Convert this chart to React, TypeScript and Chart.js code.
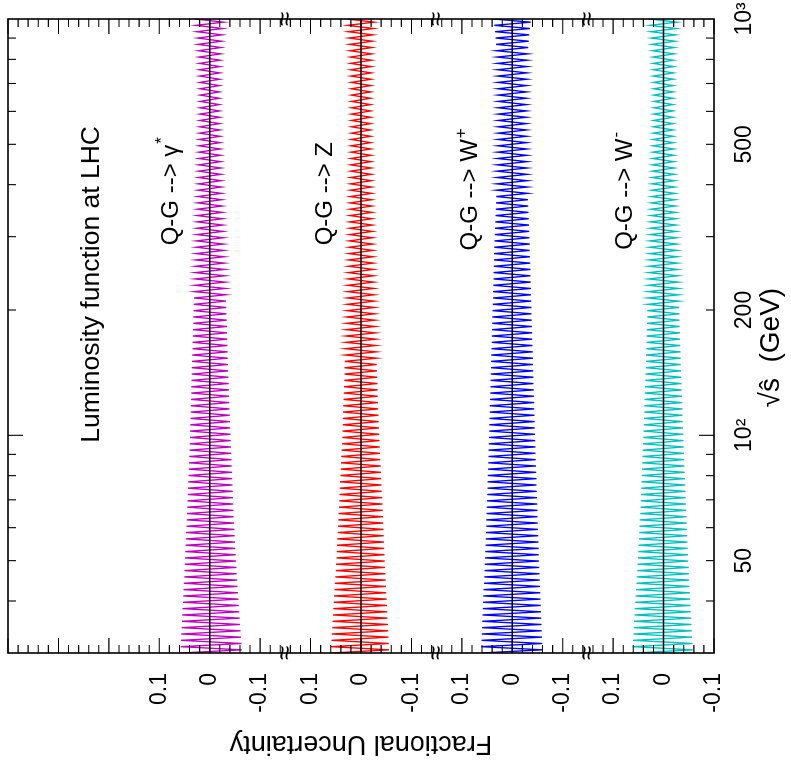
import React, { useEffect, useRef } from "react";
import { Chart, registerables } from "chart.js";

Chart.register(...registerables);

// ---------------- data ----------------
const sqrtS = [30, 40, 50, 70, 100, 150, 200, 300, 400, 550, 650, 800, 900, 1000];

const gammaUpper = [0.058, 0.053, 0.049, 0.044, 0.039, 0.035, 0.032, 0.026, 0.023, 0.020, 0.019, 0.021, 0.024, 0.029];
const gammaLower = [-0.064, -0.057, -0.052, -0.046, -0.041, -0.036, -0.033, -0.027, -0.023, -0.020, -0.019, -0.021, -0.024, -0.028];
const zUpper = [0.060, 0.054, 0.049, 0.043, 0.037, 0.032, 0.028, 0.023, 0.021, 0.019, 0.019, 0.021, 0.024, 0.028];
const zLower = [-0.056, -0.051, -0.047, -0.042, -0.036, -0.031, -0.027, -0.023, -0.021, -0.019, -0.019, -0.021, -0.023, -0.027];
const wPlusUpper = [0.062, 0.058, 0.054, 0.050, 0.046, 0.042, 0.039, 0.035, 0.031, 0.028, 0.028, 0.030, 0.033, 0.037];
const wPlusLower = [-0.060, -0.056, -0.053, -0.049, -0.045, -0.041, -0.038, -0.034, -0.030, -0.028, -0.028, -0.030, -0.033, -0.037];
const wMinusUpper = [0.062, 0.056, 0.051, 0.045, 0.040, 0.035, 0.032, 0.027, 0.023, 0.020, 0.019, 0.021, 0.024, 0.029];
const wMinusLower = [-0.058, -0.053, -0.049, -0.044, -0.039, -0.034, -0.031, -0.026, -0.022, -0.019, -0.019, -0.020, -0.023, -0.027];

const channels = ["γ*", "Z", "W+", "W-"];
const panelOffsets = [0.9, 0.6, 0.3, 0.0];
const bandColors = ["#c000c0", "#ff0000", "#0000ff", "#00c0c0"];
const bandUpper = [gammaUpper, zUpper, wPlusUpper, wMinusUpper];
const bandLower = [gammaLower, zLower, wPlusLower, wMinusLower];

const xTickValues = [50, 100, 200, 500, 1000];
const xTickLabels = ["50", "10²", "200", "500", "10³"];
const xMinorTicks = [40, 50, 60, 70, 80, 90, 200, 300, 400, 500, 600, 700, 800, 900];
const xMajorTicks = [100];
const yTickValues = [-0.1, 0, 0.1];
const yTickLabels = ["-0.1", "0", "0.1"];
const panelBreaks = [0.15, 0.45, 0.75];

const FONT = "'Liberation Sans', Arial, Helvetica, sans-serif";

// label placement (data coords: sqrt(s), fractional value above panel zero)
const labelMain = ["Q-G --> γ", "Q-G --> Z", "Q-G --> W", "Q-G --> W"];
const labelSup = ["*", "", "+", "-"];
const labelX = [286, 286, 278, 279];
const labelDy = [0.063, 0.058, 0.07, 0.063];

function interpAt(pts: { x: number; y: number }[], px: number) {
  for (let j = 0; j < pts.length - 1; j++) {
    const a = pts[j], b = pts[j + 1];
    if (px >= a.x - 1e-6 && px <= b.x + 1e-6) {
      const t = (px - a.x) / (b.x - a.x || 1);
      return a.y + (b.y - a.y) * t;
    }
  }
  return pts[pts.length - 1].y;
}

const decorPlugin = {
  id: "decor",
  beforeDatasetsDraw(chart: any) {
    const { ctx, chartArea } = chart;
    ctx.save();
    ctx.beginPath();
    ctx.rect(chartArea.left, chartArea.top, chartArea.right - chartArea.left, chartArea.bottom - chartArea.top);
    ctx.clip();
    const step = 3.17;
    for (let b = 0; b < channels.length; b++) {
      const up = chart.getDatasetMeta(4 + 2 * b).data.map((p: any) => ({ x: p.x, y: p.y }));
      const lo = chart.getDatasetMeta(5 + 2 * b).data.map((p: any) => ({ x: p.x, y: p.y }));
      const x0 = up[0].x, x1 = up[up.length - 1].x;
      const n = Math.round((x1 - x0) / step);
      ctx.beginPath();
      for (let k = 0; k <= n; k++) {
        const px = x0 + ((x1 - x0) * k) / n;
        const py = interpAt(k % 2 === 0 ? up : lo, px);
        if (k === 0) ctx.moveTo(px, py);
        else ctx.lineTo(px, py);
      }
      ctx.strokeStyle = bandColors[b];
      ctx.lineWidth = 1.35;
      ctx.stroke();
    }
    ctx.restore();
  },
  afterDatasetsDraw(chart: any) {
    const { ctx, chartArea } = chart;
    const xs = chart.scales.x;
    const ys = chart.scales.y;
    const { left, right, top, bottom } = chartArea;
    ctx.save();
    ctx.strokeStyle = "#000";
    ctx.fillStyle = "#000";
    ctx.lineWidth = 1.1;
    const drawXTick = (v: number, len: number) => {
      const px = xs.getPixelForValue(v);
      ctx.beginPath();
      ctx.moveTo(px, bottom);
      ctx.lineTo(px, bottom - len);
      ctx.moveTo(px, top);
      ctx.lineTo(px, top + len);
      ctx.stroke();
    };
    xMinorTicks.forEach((v) => drawXTick(v, 8));
    xMajorTicks.forEach((v) => drawXTick(v, 15));
    panelOffsets.forEach((off, i) => {
      const lo = i === panelOffsets.length - 1 ? -0.1 : -0.14;
      const hi = i === 0 ? 0.4 : 0.14;
      for (let k = Math.round(lo / 0.02); k <= Math.round(hi / 0.02); k++) {
        const v = off + k * 0.02;
        const len = k % 5 === 0 ? 15 : 8;
        const py = ys.getPixelForValue(v);
        ctx.beginPath();
        ctx.moveTo(left, py);
        ctx.lineTo(left + len, py);
        ctx.moveTo(right, py);
        ctx.lineTo(right - len, py);
        ctx.stroke();
      }
    });
    ctx.lineWidth = 1.6;
    ctx.strokeRect(left, top, right - left, bottom - top);
    ctx.font = `26px ${FONT}`;
    ctx.textAlign = "center";
    ctx.textBaseline = "middle";
    panelBreaks.forEach((v) => {
      const py = ys.getPixelForValue(v);
      ctx.fillText("≈", left, py);
      ctx.fillText("≈", right, py);
    });
    ctx.textAlign = "left";
    ctx.textBaseline = "alphabetic";
    for (let i = 0; i < channels.length; i++) {
      const px = xs.getPixelForValue(labelX[i]);
      const py = ys.getPixelForValue(panelOffsets[i] + labelDy[i]);
      ctx.font = `24px ${FONT}`;
      ctx.fillText(labelMain[i], px, py);
      const w = ctx.measureText(labelMain[i]).width;
      if (labelSup[i]) {
        ctx.font = `17px ${FONT}`;
        ctx.fillText(labelSup[i], px + w + 1, py - 11);
      }
    }
    ctx.font = `26.5px ${FONT}`;
    ctx.fillText("Luminosity function at LHC", xs.getPixelForValue(96), ys.getPixelForValue(1.12));
    ctx.restore();
  },
};

export default function App() {
  const ref = useRef<HTMLCanvasElement | null>(null);
  useEffect(() => {
    if (!ref.current) return;
    const datasets: any[] = [];
    panelOffsets.forEach((off) => {
      datasets.push({
        data: [
          { x: sqrtS[0], y: off },
          { x: sqrtS[sqrtS.length - 1], y: off },
        ],
        borderColor: "#000",
        borderWidth: 1.5,
        pointRadius: 0,
        fill: false,
      });
    });
    panelOffsets.forEach((off, b) => {
      datasets.push({
        data: sqrtS.map((x, j) => ({ x, y: off + bandUpper[b][j] })),
        showLine: false,
        pointRadius: 0,
        borderWidth: 0,
      });
      datasets.push({
        data: sqrtS.map((x, j) => ({ x, y: off + bandLower[b][j] })),
        showLine: false,
        pointRadius: 0,
        borderWidth: 0,
      });
    });
    const yTicksAll: number[] = [];
    panelOffsets.forEach((off) => yTickValues.forEach((v) => yTicksAll.push(off + v)));

    const chart = new Chart(ref.current, {
      type: "line",
      data: { datasets },
      plugins: [decorPlugin],
      options: {
        responsive: false,
        animation: false,
        events: [],
        layout: { padding: { left: 0, right: 19, top: 8, bottom: 0 } },
        plugins: { legend: { display: false }, tooltip: { enabled: false } },
        scales: {
          x: {
            type: "logarithmic",
            min: 30,
            max: 1000,
            position: "bottom",
            grid: { display: false },
            border: { display: false },
            afterBuildTicks: (s: any) => {
              s.ticks = xTickValues.map((v) => ({ value: v }));
            },
            afterFit: (s: any) => {
              s.height = 77;
              s.paddingLeft = 0;
              s.paddingRight = 0;
            },
            ticks: {
              autoSkip: false,
              maxRotation: 0,
              minRotation: 0,
              padding: 8.5,
              color: "#000",
              font: { family: FONT, size: 23 },
              callback: (_v: any, i: number) => xTickLabels[i],
            },
            title: {
              display: true,
              text: "√ŝ  (GeV)   ",
              color: "#000",
              font: { family: FONT, size: 28 },
              padding: { top: 0, bottom: 3.2 },
            },
          },
          y: {
            type: "linear",
            min: -0.1,
            max: 1.3,
            position: "left",
            grid: { display: false },
            border: { display: false },
            afterBuildTicks: (s: any) => {
              s.ticks = yTicksAll.map((v) => ({ value: v }));
            },
            afterFit: (s: any) => {
              s.width = 118;
              s.paddingTop = 0;
              s.paddingBottom = 0;
            },
            ticks: {
              autoSkip: false,
              padding: 12,
              color: "#000",
              font: { family: FONT, size: 23 },
              callback: (_v: any, i: number) => yTickLabels[i % yTickLabels.length],
            },
            title: {
              display: true,
              text: "Fractional Uncertainty",
              color: "#000",
              font: { family: FONT, size: 27 },
              padding: { top: 11.4, bottom: 0 },
            },
          },
        },
      } as any,
    });
    return () => chart.destroy();
  }, []);

  return (
    <div style={{ position: "fixed", left: 0, top: 0, width: 791, height: 771, overflow: "hidden", background: "#fff" }}>
      <div
        style={{
          position: "absolute",
          left: 0,
          top: 0,
          width: 771,
          height: 791,
          transformOrigin: "0 0",
          transform: "translate(0px, 771px) rotate(-90deg)",
        }}
      >
        <canvas ref={ref} width={771} height={791} style={{ width: 771, height: 791, display: "block" }} />
      </div>
    </div>
  );
}
